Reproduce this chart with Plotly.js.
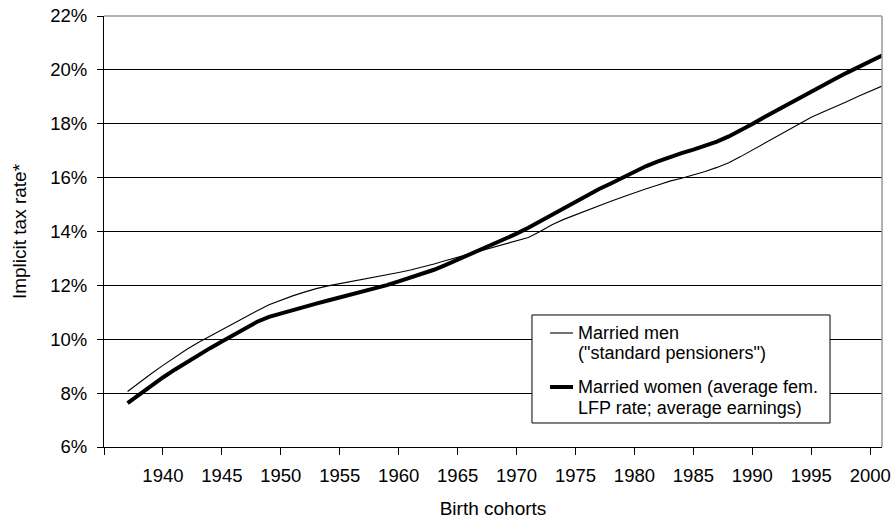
<!DOCTYPE html>
<html>
<head>
<meta charset="utf-8">
<script src="https://cdn.plot.ly/plotly-3.0.1.min.js"></script>
<style>html,body{margin:0;padding:0;background:#fff;}#chart{width:894px;height:519px;}</style>
</head>
<body>
<div id="chart"></div>
<script>
const years = [1937,1938,1939,1940,1941,1942,1943,1944,1945,1946,1947,1948,1949,1950,1951,1952,1953,1954,1955,1956,1957,1958,1959,1960,1961,1962,1963,1964,1965,1966,1967,1968,1969,1970,1971,1972,1973,1974,1975,1976,1977,1978,1979,1980,1981,1982,1983,1984,1985,1986,1987,1988,1989,1990,1991,1992,1993,1994,1995,1996,1997,1998,1999,2000,2001];

const marriedMen = [8.06,8.40,8.72,9.03,9.33,9.62,9.88,10.12,10.36,10.58,10.82,11.06,11.28,11.46,11.61,11.75,11.88,11.98,12.06,12.14,12.22,12.30,12.39,12.48,12.57,12.67,12.79,12.92,13.04,13.16,13.28,13.40,13.53,13.66,13.78,14.00,14.25,14.45,14.62,14.80,14.97,15.12,15.28,15.44,15.59,15.73,15.87,15.98,16.10,16.23,16.38,16.55,16.78,17.02,17.27,17.52,17.76,18.00,18.24,18.44,18.62,18.82,19.02,19.22,19.40];

const marriedWomen = [7.63,7.95,8.28,8.58,8.87,9.15,9.42,9.67,9.92,10.16,10.42,10.65,10.83,10.96,11.08,11.20,11.32,11.44,11.55,11.65,11.76,11.88,12.01,12.15,12.29,12.42,12.58,12.76,12.95,13.14,13.33,13.52,13.72,13.92,14.14,14.38,14.63,14.89,15.12,15.36,15.58,15.78,16.00,16.22,16.43,16.60,16.76,16.91,17.04,17.18,17.34,17.53,17.75,17.99,18.24,18.48,18.72,18.97,19.22,19.44,19.66,19.89,20.11,20.33,20.53];

const seriesNames = ['Married men', 'Married women'];
const legendLines = [
  ['Married men', '("standard pensioners")'],
  ['Married women (average fem.', 'LFP rate; average earnings)']
];

const xTickVals = [1935,1940,1945,1950,1955,1960,1965,1970,1975,1980,1985,1990,1995,2000];
const xTickText = ['','1940','1945','1950','1955','1960','1965','1970','1975','1980','1985','1990','1995','2000'];
const yTickVals = [6,8,10,12,14,16,18,20,22];
const yTickText = ['6%','8%','10%','12%','14%','16%','18%','20%','22%'];

const FONT = 'Liberation Sans, Arial, sans-serif';
const lineWidths = [1.1, 4];

const traces = [
  {x: years, y: marriedMen, name: seriesNames[0], type: 'scatter', mode: 'lines',
   line: {color: '#000', width: lineWidths[0]}, showlegend: false},
  {x: years, y: marriedWomen, name: seriesNames[1], type: 'scatter', mode: 'lines',
   line: {color: '#000', width: lineWidths[1]}, showlegend: false}
];

// legend drawn by hand (paper coordinates)
const LX0 = 0.5501, LX1 = 0.9332, LY0 = 0.0557, LY1 = 0.3063;
const sampleX0 = 0.5733, sampleX1 = 0.6028, textX = 0.6080;
const entryY = [[0.2645, 0.2181], [0.1392, 0.0905]];

const shapes = [
  {type: 'line', xref: 'paper', yref: 'paper', x0: 0, x1: 1, y0: 1, y1: 1, line: {color: '#999', width: 1.5}, layer: 'above'},
  {type: 'line', xref: 'paper', yref: 'paper', x0: 1, x1: 1, y0: 0, y1: 1, line: {color: '#999', width: 1.5}, layer: 'above'},
  {type: 'rect', xref: 'paper', yref: 'paper', x0: LX0, x1: LX1, y0: LY0, y1: LY1, line: {color: '#000', width: 1}, fillcolor: '#fff', layer: 'above'}
];
const annotations = [];
legendLines.forEach((lines, i) => {
  shapes.push({type: 'line', xref: 'paper', yref: 'paper', x0: sampleX0, x1: sampleX1,
    y0: entryY[i][0], y1: entryY[i][0], line: {color: '#000', width: lineWidths[i]}, layer: 'above'});
  lines.forEach((t, j) => {
    annotations.push({xref: 'paper', yref: 'paper', x: textX, y: entryY[i][j], xanchor: 'left', yanchor: 'middle',
      text: t, showarrow: false, borderpad: 0, font: {family: FONT, size: 18, color: '#000'}});
  });
});

const layout = {
  width: 894, height: 519,
  margin: {l: 104, r: 12, t: 16, b: 72},
  paper_bgcolor: '#fff', plot_bgcolor: '#fff',
  font: {family: FONT, size: 18.5, color: '#000'},
  showlegend: false,
  xaxis: {range: [1935, 2001], tickmode: 'array', tickvals: xTickVals, ticktext: xTickText,
    showgrid: false, zeroline: false, showline: true, linecolor: '#000', linewidth: 1,
    ticks: 'outside', ticklen: 7, tickcolor: '#000', ticklabelstandoff: 5,
    tickfont: {family: FONT, size: 18.5, color: '#000'},
    title: {text: 'Birth cohorts', font: {family: FONT, size: 19, color: '#000'}, standoff: 18}},
  yaxis: {range: [6, 22], tickmode: 'array', tickvals: yTickVals, ticktext: yTickText,
    showgrid: true, gridcolor: '#000', gridwidth: 1, zeroline: false,
    showline: true, linecolor: '#000', linewidth: 1,
    ticks: 'outside', ticklen: 6, tickcolor: '#000', ticklabelstandoff: 6,
    tickfont: {family: FONT, size: 18.5, color: '#000'},
    title: {text: 'Implicit tax rate*', font: {family: FONT, size: 19, color: '#000'}, standoff: 18}},
  shapes: shapes,
  annotations: annotations
};

Plotly.newPlot('chart', traces, layout, {staticPlot: true, displayModeBar: false});
</script>
</body>
</html>
